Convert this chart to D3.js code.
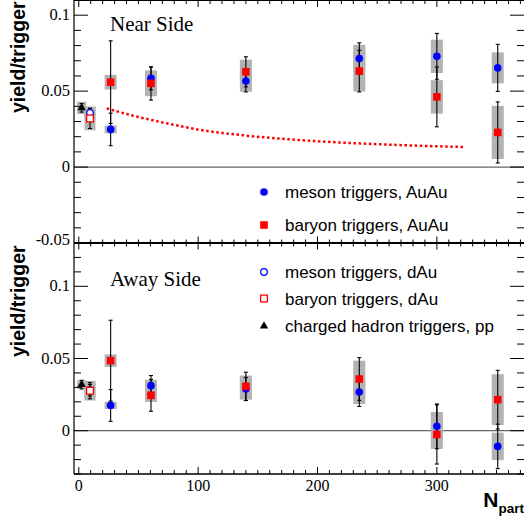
<!DOCTYPE html>
<html><head><meta charset="utf-8">
<script src="https://cdn.jsdelivr.net/npm/d3@7"></script>
<style>body{margin:0;background:#fff}svg{display:block}</style>
</head><body><svg id="c" width="524" height="519"></svg>
<script>
// ---------------- DATA ----------------
const npartAuAu = [26.7, 60.5, 140, 235, 300, 351];
const npartDAu = [9.4];
const npartPP = [2.4];

// Near side
const nearMesonAuAu      = [0.0248, 0.0584, 0.0566, 0.0715, 0.0729, 0.0653];
const nearMesonAuAuStat  = [0.0107, 0.0075, 0.0071, 0.0103, 0.0151, 0.0155];
const nearMesonAuAuSys   = [0.0026, 0.0043, 0.0070, 0.0090, 0.0110, 0.0102];
const nearBaryonAuAu     = [0.0559, 0.0551, 0.0627, 0.0632, 0.0462, 0.0228];
const nearBaryonAuAuStat = [0.0272, 0.0110, 0.0099, 0.0137, 0.0197, 0.0201];
const nearBaryonAuAuSys  = [0.0048, 0.0085, 0.0080, 0.0135, 0.0110, 0.0175];
const nearMesonDAu = [0.0357], nearMesonDAuStat = [0.0030], nearMesonDAuSys = [0.0040];
const nearBaryonDAu = [0.0320], nearBaryonDAuStat = [0.0066], nearBaryonDAuSys = [0.0078];
const nearPP = [0.0390], nearPPStat = [0.0028], nearPPSys = [0.0040];

// Near side reference curve (dotted)
const curveNpart = [23.4, 45.7, 73.6, 101.5, 140.6, 196.5, 252, 322];
const curveYield = [0.0386, 0.0338, 0.0288, 0.0245, 0.0207, 0.0172, 0.0150, 0.0132];

// Away side
const awayMesonAuAu      = [0.0175, 0.0312, 0.0289, 0.0268, 0.0030, -0.0109];
const awayMesonAuAuStat  = [0.0110, 0.0070, 0.0080, 0.0100, 0.0155, 0.0154];
const awayMesonAuAuSys   = [0.0025, 0.0040, 0.0074, 0.0083, 0.0100, 0.0095];
const awayBaryonAuAu     = [0.0485, 0.0245, 0.0307, 0.0358, -0.0026, 0.0215];
const awayBaryonAuAuStat = [0.0280, 0.0110, 0.0098, 0.0148, 0.0205, 0.0203];
const awayBaryonAuAuSys  = [0.0043, 0.0046, 0.0075, 0.0127, 0.0100, 0.0176];
const awayMesonDAu = [0.0280], awayMesonDAuStat = [0.0040], awayMesonDAuSys = [0.0050];
const awayBaryonDAu = [0.0277], awayBaryonDAuStat = [0.0056], awayBaryonDAuSys = [0.0068];
const awayPP = [0.0319], awayPPStat = [0.0030], awayPPSys = [0.0030];

// Axis tick labels
const xTickValues = [0, 100, 200, 300];
const xTickLabels = ["0", "100", "200", "300"];
const yTopTickValues = [-0.05, 0, 0.05, 0.1];
const yTopTickLabels = ["-0.05", "0", "0.05", "0.1"];
const yBotTickValues = [0, 0.05, 0.1];
const yBotTickLabels = ["0", "0.05", "0.1"];

const legendTop = ["meson triggers, AuAu", "baryon triggers, AuAu"];
const legendBot = ["meson triggers, dAu", "baryon triggers, dAu", "charged hadron triggers, pp"];

// ---------------- LAYOUT ----------------
const svg = d3.select("#c");
const L = 74, R = 524, T = 0, SEP = 243, B = 474;
const x = d3.scaleLinear().domain([-4, 373]).range([L, R]);
const yTop = d3.scaleLinear().domain([-0.05, 0.11]).range([SEP, T]);
const yBot = d3.scaleLinear().domain([-0.03, 0.13]).range([B, SEP]);

const BLUE = "#0000ff", RED = "#ff0000", BOXC = "#b3b3b3";
const serif = "'Liberation Serif','Times New Roman',serif";
const sans = "'Liberation Sans',Arial,Helvetica,sans-serif";

function makeSeries(xs, ys, st, sy, marker, boxW) {
  return xs.map((v, i) => ({x: v, y: ys[i], stat: st[i], sys: sy[i], marker, boxW}));
}

const nearSeries = [
  makeSeries(npartPP, nearPP, nearPPStat, nearPPSys, "tri", 9),
  makeSeries(npartDAu, nearMesonDAu, nearMesonDAuStat, nearMesonDAuSys, "ocirc", 11),
  makeSeries(npartDAu, nearBaryonDAu, nearBaryonDAuStat, nearBaryonDAuSys, "osq", 11),
  makeSeries(npartAuAu, nearMesonAuAu, nearMesonAuAuStat, nearMesonAuAuSys, "circ", 12),
  makeSeries(npartAuAu, nearBaryonAuAu, nearBaryonAuAuStat, nearBaryonAuAuSys, "sq", 12)
];
const awaySeries = [
  makeSeries(npartPP, awayPP, awayPPStat, awayPPSys, "tri", 9),
  makeSeries(npartDAu, awayMesonDAu, awayMesonDAuStat, awayMesonDAuSys, "ocirc", 11),
  makeSeries(npartDAu, awayBaryonDAu, awayBaryonDAuStat, awayBaryonDAuSys, "osq", 11),
  makeSeries(npartAuAu, awayMesonAuAu, awayMesonAuAuStat, awayMesonAuAuSys, "circ", 12),
  makeSeries(npartAuAu, awayBaryonAuAu, awayBaryonAuAuStat, awayBaryonAuAuSys, "sq", 12)
];

function drawMarker(g, m, cx, cy) {
  if (m === "circ") g.append("circle").attr("cx", cx).attr("cy", cy).attr("r", 3.8).attr("fill", BLUE);
  else if (m === "sq") g.append("rect").attr("x", cx - 3.8).attr("y", cy - 3.8).attr("width", 7.6).attr("height", 7.6).attr("fill", RED);
  else if (m === "ocirc") g.append("circle").attr("cx", cx).attr("cy", cy).attr("r", 3.3).attr("fill", "#fff").attr("stroke", BLUE).attr("stroke-width", 1.3);
  else if (m === "osq") g.append("rect").attr("x", cx - 3.4).attr("y", cy - 3.4).attr("width", 6.8).attr("height", 6.8).attr("fill", "#fff").attr("stroke", RED).attr("stroke-width", 1.3);
  else if (m === "tri") g.append("path").attr("transform", `translate(${cx},${cy})`).attr("d", d3.symbol(d3.symbolTriangle, 30)()).attr("fill", "#000");
}

function panel(y, series) {
  const g = svg.append("g");
  g.append("line").attr("x1", L).attr("x2", R).attr("y1", y(0)).attr("y2", y(0))
    .attr("stroke", "#666").attr("stroke-width", 1.2);
  const all = series.flat();
  g.selectAll(null).data(all).enter().append("rect")
    .attr("x", d => x(d.x) - d.boxW / 2).attr("width", d => d.boxW)
    .attr("y", d => y(d.y + d.sys)).attr("height", d => y(d.y - d.sys) - y(d.y + d.sys))
    .attr("fill", BOXC);
  all.forEach(d => {
    const cx = x(d.x), t = y(d.y + d.stat), b = y(d.y - d.stat);
    g.append("line").attr("x1", cx).attr("x2", cx).attr("y1", t).attr("y2", b).attr("stroke", "#000").attr("stroke-width", 1.1);
    [t, b].forEach(yy => g.append("line").attr("x1", cx - 2).attr("x2", cx + 2).attr("y1", yy).attr("y2", yy).attr("stroke", "#000").attr("stroke-width", 1.1));
  });
  all.forEach(d => drawMarker(g, d.marker, x(d.x), y(d.y)));
}

panel(yTop, nearSeries);
panel(yBot, awaySeries);

svg.append("path")
  .datum(curveNpart.map((n, i) => [n, curveYield[i]]))
  .attr("d", d3.line().x(d => x(d[0])).y(d => yTop(d[1])).curve(d3.curveMonotoneX))
  .attr("fill", "none").attr("stroke", RED).attr("stroke-width", 2.5)
  .attr("stroke-dasharray", "2.5,2.6");

// ---------------- AXES ----------------
const ax = svg.append("g").attr("stroke", "#000");
ax.append("line").attr("x1", L).attr("x2", L).attr("y1", T).attr("y2", B).attr("stroke-width", 1.2);
ax.append("line").attr("x1", L).attr("x2", R).attr("y1", T + 0.5).attr("y2", T + 0.5).attr("stroke-width", 1);
ax.append("line").attr("x1", L).attr("x2", R).attr("y1", SEP).attr("y2", SEP).attr("stroke-width", 1.8);
ax.append("line").attr("x1", L).attr("x2", R).attr("y1", B).attr("y2", B).attr("stroke-width", 1.5);

function yTicks(y) {
  const [d0, d1] = y.domain();
  const vals = d3.range(Math.ceil(d0 * 100 - 1e-6), Math.floor(d1 * 100 + 1e-6) + 1);
  vals.forEach(i => {
    const major = i % 5 === 0, len = major ? 14 : 7, yy = y(i / 100);
    ax.append("line").attr("x1", L).attr("x2", L + len).attr("y1", yy).attr("y2", yy).attr("stroke-width", 1);
    ax.append("line").attr("x1", R).attr("x2", R - len).attr("y1", yy).attr("y2", yy).attr("stroke-width", 1);
  });
}
yTicks(yTop); yTicks(yBot);

const xVals = d3.range(0, 371, 10);
xVals.forEach(v => {
  const major = v % 100 === 0, xx = x(v);
  ax.append("line").attr("x1", xx).attr("x2", xx).attr("y1", B).attr("y2", B - (major ? 7 : 4)).attr("stroke-width", 1);
  const h = major ? 6.5 : 3.5;
  ax.append("line").attr("x1", xx).attr("x2", xx).attr("y1", SEP - h).attr("y2", SEP + h).attr("stroke-width", 1);
  ax.append("line").attr("x1", xx).attr("x2", xx).attr("y1", T).attr("y2", T + (major ? 7 : 4)).attr("stroke-width", 1);
});

const lab = svg.append("g").attr("font-family", serif).attr("font-size", 16.5).attr("fill", "#000");
yTopTickValues.forEach((v, i) => {
  lab.append("text").attr("x", 70).attr("y", Math.min(yTop(v) + 5, 245)).attr("text-anchor", "end").text(yTopTickLabels[i]);
});
yBotTickValues.forEach((v, i) => {
  lab.append("text").attr("x", 70).attr("y", yBot(v) + 5).attr("text-anchor", "end").text(yBotTickLabels[i]);
});
xTickValues.forEach((v, i) => {
  lab.append("text").attr("x", x(v)).attr("y", 491).attr("text-anchor", "middle").attr("font-size", 16).text(xTickLabels[i]);
});

svg.append("text").attr("x", 110).attr("y", 30.5).attr("font-family", serif).attr("font-size", 21).text("Near Side");
svg.append("text").attr("x", 110).attr("y", 286).attr("font-family", serif).attr("font-size", 21).text("Away Side");

[113, 357].forEach(ys => {
  svg.append("text").attr("transform", `translate(25,${ys}) rotate(-90)`)
    .attr("font-family", sans).attr("font-weight", "bold").attr("font-size", 19.5)
    .attr("text-anchor", "start").text("yield/trigger");
});

const xt = svg.append("text").attr("x", 524).attr("y", 506.5).attr("text-anchor", "end")
  .attr("font-family", sans).attr("font-weight", "bold");
xt.append("tspan").attr("font-size", 21).text("N");
xt.append("tspan").attr("font-size", 13.5).attr("dy", 6).text("part");

const legTopY = [192, 225], legTopM = ["circ", "sq"];
const legBotY = [272, 298.5, 326], legBotM = ["ocirc", "osq", "tri"];
const lg = svg.append("g");
legendTop.forEach((t, i) => {
  drawMarker(lg, legTopM[i], 264, legTopY[i]);
  lg.append("text").attr("x", 285).attr("y", legTopY[i] + 6).attr("font-family", sans).attr("font-size", 17).text(t);
});
legendBot.forEach((t, i) => {
  drawMarker(lg, legBotM[i], 264, legBotY[i]);
  lg.append("text").attr("x", 285).attr("y", legBotY[i] + 6).attr("font-family", sans).attr("font-size", 17).text(t);
});
</script></body></html>
